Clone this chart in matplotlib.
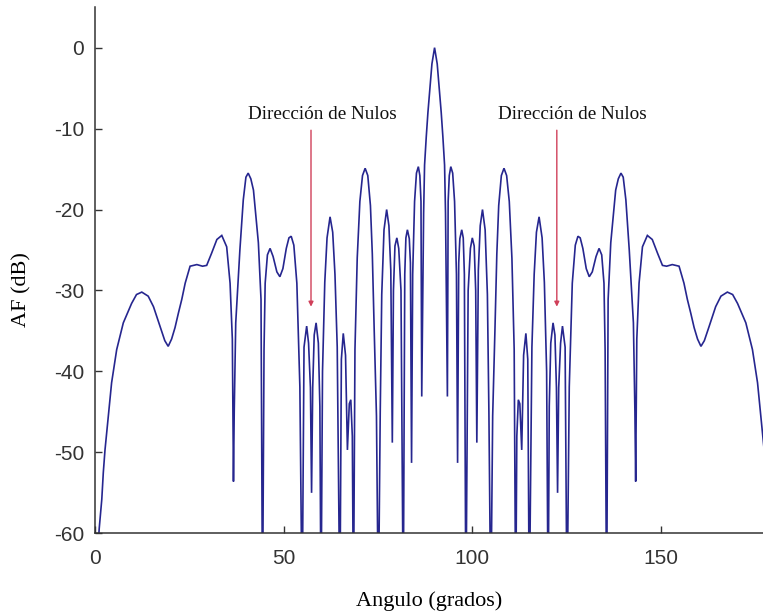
import matplotlib
matplotlib.use("Agg")
import matplotlib.pyplot as plt

# Array factor (angle in degrees, AF in dB); values below -60 are clipped nulls
angulo_deg = [
    0.8, 1.1, 1.8, 2.2, 2.65, 3.5, 4.4, 5.75, 7.5, 9.7, 11.0, 12.4, 14.1, 15.5, 17.2, 18.5, 19.4, 20.3,
    21.2, 22.1, 23.0, 23.9, 25.2, 27.0, 28.5, 29.6, 30.9, 32.3, 33.6, 34.9, 35.8, 36.4, 36.7, 36.9,
    37.3, 38.4, 39.3, 40.0, 40.6, 41.3, 42.0, 43.3, 44.0, 44.4, 44.8, 45.1, 45.7, 46.4, 47.2, 48.2,
    49.0, 49.8, 50.7, 51.4, 52.0, 52.7, 53.5, 54.3, 54.9, 55.4, 56.1, 56.6, 57.1, 57.4, 57.7, 58.1,
    58.6, 59.2, 59.6, 59.9, 60.3, 60.9, 61.5, 62.3, 63.0, 63.6, 64.2, 64.9, 65.3, 65.8, 66.4, 66.9,
    67.4, 67.8, 68.2, 68.5, 68.9, 69.5, 70.2, 70.9, 71.6, 72.3, 73.0, 73.5, 74.0, 74.6, 75.1, 75.6,
    76.0, 76.6, 77.3, 77.9, 78.4, 78.8, 79.1, 79.5, 80.0, 80.5, 81.1, 81.7, 82.1, 82.4, 82.8, 83.3,
    83.6, 83.9, 84.2, 84.7, 85.2, 85.7, 86.1, 86.4, 86.6, 86.9, 87.1, 87.35, 87.8, 88.24, 88.8, 89.3,
    90.0,
    90.7, 91.2, 91.76, 92.2, 92.65, 92.9, 93.1, 93.4, 93.6, 93.9, 94.3, 94.8, 95.3, 95.8, 96.1, 96.4,
    96.7, 97.2, 97.6, 97.9, 98.3, 98.9, 99.5, 100.0, 100.5, 100.9, 101.2, 101.6, 102.1, 102.7, 103.4,
    104.0, 104.4, 104.9, 105.4, 106.0, 106.5, 107.0, 107.7, 108.4, 109.1, 109.8, 110.5, 111.1, 111.5,
    111.8, 112.2, 112.6, 113.1, 113.6, 114.2, 114.7, 115.1, 115.8, 116.4, 117.0, 117.7, 118.5, 119.1,
    119.7, 120.1, 120.4, 120.8, 121.4, 121.9, 122.3, 122.6, 122.9, 123.4, 123.9, 124.6, 125.1, 125.7,
    126.5, 127.3, 128.0, 128.6, 129.3, 130.2, 131.0, 131.8, 132.8, 133.6, 134.3, 134.9, 135.2, 135.6,
    136.0, 136.7, 138.0, 138.7, 139.4, 140.0, 140.7, 141.6, 142.7, 143.1, 143.3, 143.6, 144.2, 145.1,
    146.4, 147.7, 149.1, 150.4, 151.5, 153.0, 154.8, 156.1, 157.0, 157.9, 158.8, 159.7, 160.6, 161.5,
    162.8, 164.5, 165.9, 167.6, 169.0, 170.3, 172.5, 174.25, 175.6, 176.5, 177.35, 177.8, 178.2, 178.9,
    179.2,
]
af_db = [
    -62, -59.5, -55.8, -52.5, -49.7, -45.6, -41.4, -37.3, -34.0, -31.6, -30.5, -30.2, -30.7, -32.0, -34.4, -36.2, -36.9, -36.0,
    -34.6, -32.8, -31.1, -29.1, -27.0, -26.8, -27.0, -26.9, -25.4, -23.7, -23.2, -24.6, -29.1, -36.0, -53.6, -45.0,
    -34.0, -25.0, -18.8, -16.0, -15.5, -16.2, -17.6, -24.1, -31.1, -70, -37.3, -29.1, -25.6, -24.8, -25.8, -27.7,
    -28.3, -27.3, -24.8, -23.5, -23.3, -24.4, -29.1, -41.9, -70, -37.0, -34.4, -36.5, -42.0, -55.0, -42.0, -35.5,
    -34.0, -36.5, -44.3, -70, -40.0, -29.0, -23.5, -20.9, -22.8, -28.0, -37.0, -70, -38.5, -35.3, -38.0, -49.7,
    -44.0, -43.5, -48.0, -70, -37.3, -26.0, -19.0, -15.8, -14.9, -15.8, -19.5, -25.5, -34.9, -45.5, -70, -45.0,
    -30.5, -22.5, -20.0, -22.0, -27.5, -48.8, -30.0, -24.5, -23.5, -24.8, -30.0, -70, -28.0, -23.5, -22.5, -23.6,
    -26.6, -51.3, -28.0, -19.0, -15.5, -14.7, -15.8, -19.0, -43.1, -30.0, -20.4, -14.5, -11.0, -8.0, -4.8, -2.0,
    0.0,
    -2.0, -4.8, -8.0, -11.0, -14.5, -20.4, -30.0, -43.1, -19.0, -15.8, -14.7, -15.5, -19.0, -28.0, -51.3, -26.6,
    -23.6, -22.5, -23.5, -28.0, -70, -30.0, -24.8, -23.5, -24.5, -30.0, -48.8, -27.5, -22.0, -20.0, -22.5,
    -30.5, -45.0, -70, -45.5, -34.9, -25.5, -19.5, -15.8, -14.9, -15.8, -19.0, -26.0, -37.3, -70,
    -48.0, -43.5, -44.0, -49.7, -38.0, -35.3, -38.5, -70, -37.0, -28.0, -22.8, -20.9, -23.5, -29.0,
    -40.0, -70, -44.3, -36.5, -34.0, -35.5, -42.0, -55.0, -42.0, -36.5, -34.4, -37.0, -70, -41.9,
    -29.1, -24.4, -23.3, -23.5, -24.8, -27.3, -28.3, -27.7, -25.8, -24.8, -25.6, -29.1, -37.3, -70,
    -31.1, -24.1, -17.6, -16.2, -15.5, -16.0, -18.8, -25.0, -34.0, -45.0, -53.6, -36.0, -29.1, -24.6,
    -23.2, -23.7, -25.4, -26.9, -27.0, -26.8, -27.0, -29.1, -31.1, -32.8, -34.6, -36.0, -36.9, -36.2,
    -34.4, -32.0, -30.7, -30.2, -30.5, -31.6, -34.0, -37.3, -41.4, -45.6, -49.7, -52.5, -55.8, -59.5,
    -62,
]

x_ticks = [0, 50, 100, 150]
y_ticks = [0, -10, -20, -30, -40, -50, -60]
annot_text = "Dirección de Nulos"
arrow_x_deg = [57.25, 122.4]
text_x_deg = [60.2, 126.4]
text_y_db = -8.84
arrow_top_db = -10.2
arrow_tip_db = -32.0

plt.rcParams['axes.unicode_minus'] = False

W, H = 763, 614
fig = plt.figure(figsize=(W / 100, H / 100), dpi=100)
left_px, right_px, top_px, bot_px = 95, 763, 7.2, 533.3
ax = fig.add_axes([left_px / W, (H - bot_px) / H, (right_px - left_px) / W, (bot_px - top_px) / H])

ax.plot(angulo_deg, af_db, color='#26268f', lw=1.2, solid_joinstyle='miter')

ax.set_xlim(0, (right_px - left_px) / 3.773)
ax.set_ylim(-60, 5)
ax.set_xticks(x_ticks)
ax.set_yticks(y_ticks)
ax.set_xticklabels([str(t) for t in x_ticks], family='Liberation Sans', fontsize=15)
ax.set_yticklabels([str(t) for t in y_ticks], family='Liberation Sans', fontsize=15)
ax.tick_params(direction='in', length=5, width=1, colors='#333333', pad=8)
ax.tick_params(axis='x', pad=11)
for s in ['top', 'right']:
    ax.spines[s].set_visible(False)
for s in ['left', 'bottom']:
    ax.spines[s].set_color('#333333')
    ax.spines[s].set_linewidth(1.1)

ax.set_xlabel('Angulo (grados)', family='Liberation Serif', fontsize=16)
ax.set_ylabel('AF (dB)', family='Liberation Serif', fontsize=16)
ax.xaxis.set_label_coords((429 - left_px) / (right_px - left_px), -(601 - bot_px) / (bot_px - top_px))
ax.yaxis.set_label_coords(-(95 - 22) / (right_px - left_px), (bot_px - 290) / (bot_px - top_px))
ax.xaxis.label.set_va('center')
ax.yaxis.label.set_va('center')

for ax_x, tx in zip(arrow_x_deg, text_x_deg):
    ax.annotate('', xy=(ax_x, arrow_tip_db), xytext=(ax_x, arrow_top_db),
                arrowprops=dict(arrowstyle='-|>', color='#d0405a', lw=1.0,
                                mutation_scale=7, shrinkA=0, shrinkB=0))
    ax.text(tx, text_y_db, annot_text, family='Liberation Serif', fontsize=13.8,
            ha='center', va='baseline', color='#111111')

fig.savefig('out.png', dpi=100)
